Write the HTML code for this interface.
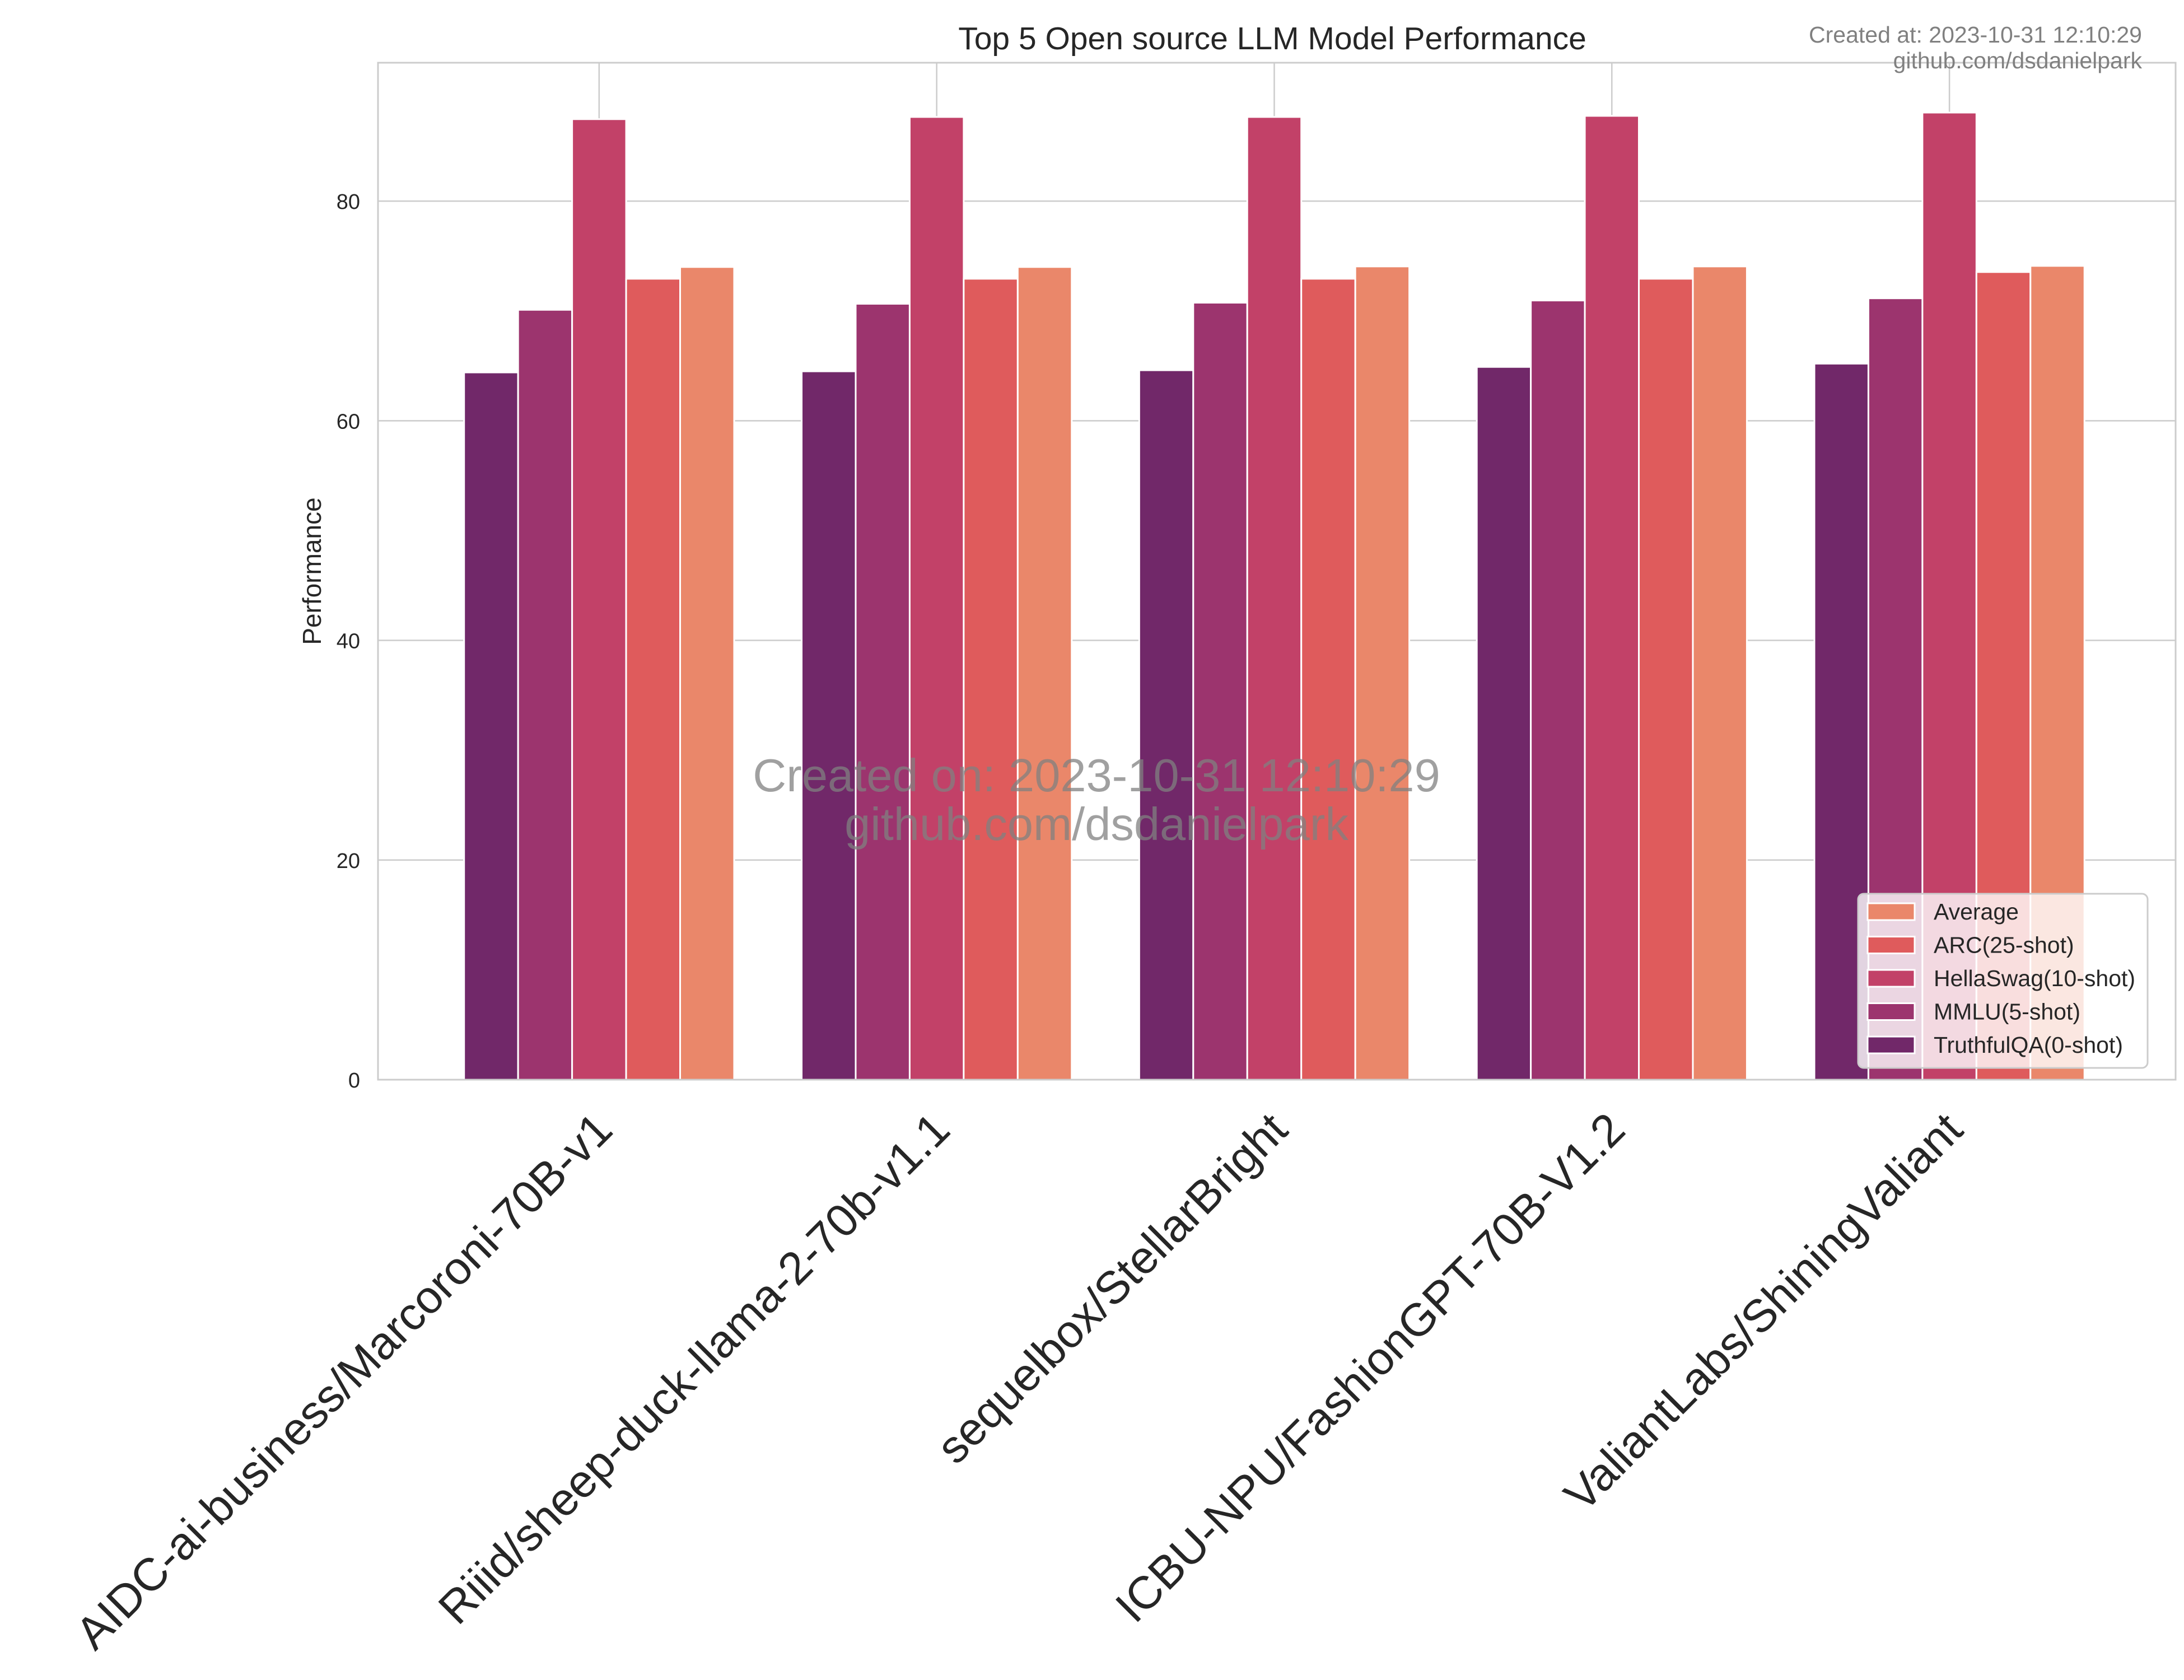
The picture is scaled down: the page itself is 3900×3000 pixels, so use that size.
<!DOCTYPE html>
<html>
<head>
<meta charset="utf-8">
<style>
html,body{margin:0;padding:0;background:#fff;}
svg{display:block;font-family:"Liberation Sans",Arial,sans-serif;}
</style>
</head>
<body>
<svg id="chart" width="3900" height="3000" viewBox="0 0 3900 3000" xmlns="http://www.w3.org/2000/svg">
  <rect x="0" y="0" width="3900" height="3000" fill="#fff"/>
  <g id="grid"></g>
  <g id="bars"></g>
  <rect x="675" y="112" width="3210" height="1816" fill="none" stroke="#cccccc" stroke-width="3"/>
  <g id="yticks"></g>
  <g id="xticks"></g>
  <text x="2272" y="88" font-size="57" fill="#262626" text-anchor="middle">Top 5 Open source LLM Model Performance</text>
  <text x="3825" y="76" font-size="41" fill="#808080" text-anchor="end">Created at: 2023-10-31 12:10:29</text>
  <text x="3825" y="122" font-size="41" fill="#808080" text-anchor="end">github.com/dsdanielpark</text>
  <text transform="translate(573,1020) rotate(-90)" font-size="46" fill="#262626" text-anchor="middle">Performance</text>
  <text x="1958" y="1413" font-size="83" fill="#808080" fill-opacity="0.75" text-anchor="middle">Created on: 2023-10-31 12:10:29</text>
  <text x="1958" y="1500" font-size="83" fill="#808080" fill-opacity="0.75" text-anchor="middle">github.com/dsdanielpark</text>
  <g id="legend"></g>
</svg>
<script>
const categories = ["AIDC-ai-business/Marcoroni-70B-v1","Riiid/sheep-duck-llama-2-70b-v1.1","sequelbox/StellarBright","ICBU-NPU/FashionGPT-70B-V1.2","ValiantLabs/ShiningValiant"];
const seriesNames = ["TruthfulQA(0-shot)","MMLU(5-shot)","HellaSwag(10-shot)","ARC(25-shot)","Average"];
const truthfulqa = [64.4, 64.5, 64.6, 64.9, 65.2];
const mmlu = [70.1, 70.65, 70.75, 70.95, 71.15];
const hellaswag = [87.46, 87.66, 87.66, 87.76, 88.06];
const arc = [72.93, 72.93, 72.93, 72.93, 73.54];
const average = [74.0, 74.0, 74.05, 74.05, 74.1];
const yTicks = [0, 20, 40, 60, 80];

const series = [truthfulqa, mmlu, hellaswag, arc, average];
const colors = ["#712869", "#9c346e", "#c24168", "#df5b5c", "#ea876a"];
const NS = "http://www.w3.org/2000/svg";
const PL = 675, PR = 3885, PT = 112, PB = 1928;
const XMIN = -0.655, XMAX = 4.67, YMIN = 0, YMAX = 92.6;
function xs(v){ return PL + (v - XMIN) / (XMAX - XMIN) * (PR - PL); }
function ys(v){ return PB - (v - YMIN) / (YMAX - YMIN) * (PB - PT); }
function mk(tag, attrs, parent){ const e = document.createElementNS(NS, tag); for (const k in attrs) e.setAttribute(k, attrs[k]); parent.appendChild(e); return e; }

const grid = document.getElementById('grid');
yTicks.forEach(t => {
  const l = mk('line', {x1: PL, x2: PR, y1: ys(t), y2: ys(t), stroke: '#cccccc', 'stroke-width': 2.5}, grid);
  
  
  const tx = mk('text', {x: 643, y: ys(t) + 14, 'font-size': 38, fill: '#262626', 'text-anchor': 'end'}, document.getElementById('yticks'));
  tx.textContent = t;
  
  
});
categories.forEach((c, i) => {
  const l = mk('line', {x1: xs(i), x2: xs(i), y1: PT, y2: PB, stroke: '#cccccc', 'stroke-width': 2.5}, grid);
  
  
  const ax = xs(i) + 28, ay = 2022;
  const tx = mk('text', {transform: `translate(${ax},${ay}) rotate(-45)`, 'font-size': 82, fill: '#262626', 'text-anchor': 'end'}, document.getElementById('xticks'));
  tx.textContent = c;
  
  
});

const bars = document.getElementById('bars');
const bw = 0.16;
series.forEach((vals, s) => {
  vals.forEach((v, i) => {
    const cx = i + (s - 2) * bw;
    const x0 = xs(cx - bw / 2), x1 = xs(cx + bw / 2);
    const r = mk('rect', {x: x0, y: ys(v), width: x1 - x0, height: ys(0) - ys(v), fill: colors[s], stroke: '#ffffff', 'stroke-width': 3}, bars);
    
    
  });
});

const leg = document.getElementById('legend');
const lb = mk('rect', {x: 3318, y: 1596, width: 517, height: 311, rx: 10, fill: '#ffffff', 'fill-opacity': 0.8, stroke: '#cccccc', 'stroke-width': 3}, leg);


for (let k = 0; k < 5; k++) {
  const s = 4 - k;
  const cy = 1628 + k * 59.5;
  const p = mk('rect', {x: 3335, y: cy - 15, width: 84, height: 30, fill: colors[s], stroke: '#ffffff', 'stroke-width': 3}, leg);
  
  
  const t = mk('text', {x: 3453, y: cy + 14, 'font-size': 41, fill: '#262626'}, leg);
  t.textContent = seriesNames[s];
  
  
}
</script>
</body>
</html>
